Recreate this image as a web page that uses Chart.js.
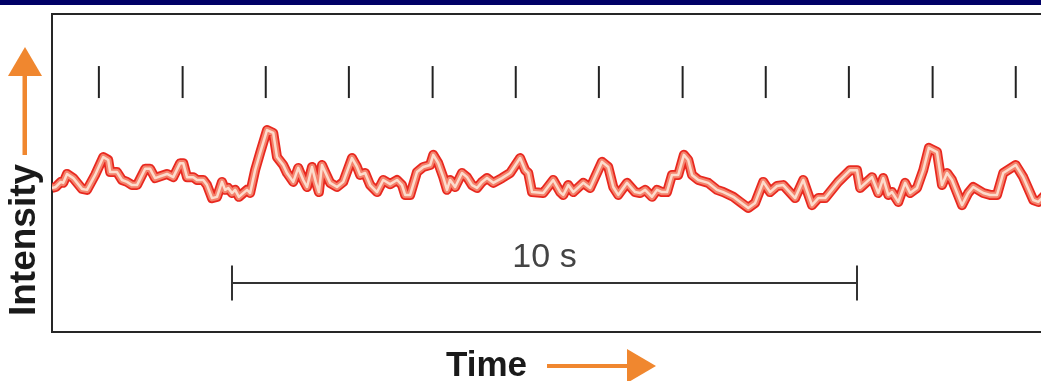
<!DOCTYPE html>
<html>
<head>
<meta charset="utf-8">
<script src="https://cdn.jsdelivr.net/npm/chart.js@4.4.1/dist/chart.umd.min.js"></script>
<style>
  html, body { margin: 0; padding: 0; background: #fff; overflow: hidden; }
  #band { position: absolute; left: 0; top: 0; width: 1041px; height: 5px; background: #000066; z-index: 2; }
  #wrap { position: absolute; left: 0; top: 0; width: 1070px; height: 381px; }
</style>
</head>
<body>
<div id="band"></div>
<div id="wrap"><canvas id="trace" width="1070" height="381"></canvas></div>
<script>
/* ============================
   DATA
   ============================ */

// time (s) of each sample in the fluorescence trace
const timeSec = [
  0.00, 0.06, 0.14, 0.18, 0.24, 0.34, 0.48, 0.56, 0.69, 0.82, 0.90, 0.93, 1.04, 1.12, 1.20, 1.28,
  1.36, 1.49, 1.57, 1.65, 1.84, 1.94, 2.05, 2.10, 2.16, 2.26, 2.32, 2.42, 2.48, 2.56, 2.64, 2.72,
  2.77, 2.82, 2.88, 2.93, 2.99, 3.12, 3.17, 3.25, 3.33, 3.44, 3.54, 3.60, 3.70, 3.76, 3.86, 3.94,
  4.02, 4.08, 4.16, 4.22, 4.27, 4.32, 4.37, 4.45, 4.56, 4.66, 4.80, 4.88, 4.93, 5.01, 5.09, 5.20,
  5.30, 5.41, 5.52, 5.60, 5.65, 5.73, 5.84, 5.94, 6.05, 6.10, 6.18, 6.26, 6.32, 6.37, 6.45, 6.56,
  6.64, 6.72, 6.80, 6.88, 6.96, 7.06, 7.20, 7.33, 7.49, 7.57, 7.62, 7.68, 7.86, 8.02, 8.13, 8.18,
  8.26, 8.34, 8.50, 8.61, 8.80, 8.90, 8.98, 9.06, 9.20, 9.33, 9.41, 9.49, 9.60, 9.68, 9.76, 9.84,
  9.92, 10.02, 10.11, 10.18, 10.24, 10.34, 10.50, 10.64, 10.74, 10.90, 11.01, 11.14, 11.25, 11.38,
  11.49, 11.60, 11.70, 11.89, 12.02, 12.16, 12.26, 12.37, 12.58, 12.77, 12.88, 12.93, 13.12, 13.22,
  13.30, 13.38, 13.44, 13.54, 13.65, 13.73, 13.84, 13.94, 14.03, 14.16, 14.24, 14.32, 14.40, 14.56,
  14.66, 14.74, 14.90, 15.01, 15.12, 15.22, 15.42, 15.54, 15.70, 15.78, 15.89
];

// intensity (a.u.) at each sample
const intensity = [
  45.3, 45.6, 47.2, 46.9, 49.7, 48.4, 45.0, 44.7, 49.4, 55.0, 54.1, 50.3, 50.3, 47.8, 47.2, 46.2,
  46.2, 51.3, 51.3, 48.4, 49.7, 48.7, 53.1, 53.1, 48.7, 48.7, 47.8, 47.8, 46.2, 42.1, 42.5, 47.2,
  44.7, 45.3, 43.7, 44.7, 42.5, 44.7, 43.7, 50.9, 56.3, 63.5, 62.6, 55.0, 52.5, 50.0, 47.2, 51.6,
  47.8, 45.6, 51.9, 47.2, 44.0, 52.5, 50.3, 46.9, 45.6, 47.2, 54.7, 51.9, 49.4, 50.0, 46.2, 44.0,
  47.8, 46.5, 47.8, 46.2, 43.1, 43.1, 50.3, 51.9, 52.5, 55.7, 53.1, 48.7, 44.7, 47.8, 45.6, 50.0,
  48.7, 46.2, 45.3, 47.2, 48.4, 46.9, 48.4, 50.0, 54.7, 50.9, 50.0, 44.0, 43.7, 47.8, 44.0, 43.1,
  46.2, 44.0, 46.9, 45.3, 53.5, 51.9, 45.6, 43.1, 46.9, 44.0, 43.7, 44.7, 42.5, 44.7, 44.0, 44.0,
  49.4, 49.4, 55.7, 54.1, 49.4, 47.8, 46.9, 44.7, 44.0, 42.5, 40.9, 39.0, 40.6, 47.2,
  44.0, 45.9, 46.2, 42.1, 47.8, 39.9, 42.1, 42.1, 47.2, 50.9, 50.9, 45.3, 48.7, 43.7,
  48.4, 43.1, 44.0, 40.9, 46.9, 43.7, 45.3, 50.9, 57.9, 56.6, 46.2, 50.0, 47.8, 39.9,
  43.7, 45.6, 43.7, 43.1, 43.1, 50.0, 52.5, 48.7, 41.5, 40.9, 43.1
];

// stimulus times (s), shown as tick marks above the trace
const stimulusSec = [0.75, 2.09, 3.42, 4.75, 6.09, 7.42, 8.75, 10.09, 11.42, 12.75, 14.09, 15.42];

// scale bar: start and end (s)
const scaleBarSec = [2.88, 12.88];
const scaleBarLabel = '10 s';

/* ============================
   STYLE
   ============================ */
const STIM_LEVEL = 78.6;
const BAR_LEVEL = 15.4;
const ORANGE = '#f0872f';
const FONT = '"Liberation Sans", Arial, Helvetica, sans-serif';

const tracePoints = timeSec.map((t, i) => ({ x: t, y: intensity[i] }));
const stimPoints = stimulusSec.map(t => ({ x: t, y: STIM_LEVEL }));
const barPoints = scaleBarSec.map(t => ({ x: t, y: BAR_LEVEL }));

// three stacked strokes give the red-edged, pale-cored trace
const traceLayer = (color, width, order) => ({
  type: 'line', data: tracePoints, borderColor: color, borderWidth: width, order,
  pointRadius: 0, tension: 0, fill: false, borderJoinStyle: 'round'
});

// frame, arrows and labels
const decorations = {
  id: 'decorations',
  beforeDatasetsDraw(chart) {
    const { ctx, chartArea: a } = chart;
    ctx.save();
    ctx.strokeStyle = '#262626';
    ctx.lineWidth = 2;
    ctx.strokeRect(a.left, a.top, a.right - a.left, a.bottom - a.top);
    ctx.restore();
  },
  afterDraw(chart) {
    const { ctx, scales } = chart;
    ctx.save();
    ctx.fillStyle = ORANGE;
    // up arrow
    ctx.fillRect(22.5, 74, 4.5, 81);
    ctx.beginPath();
    ctx.moveTo(25, 47); ctx.lineTo(8, 76); ctx.lineTo(42, 76); ctx.closePath(); ctx.fill();
    // right arrow
    ctx.fillRect(547, 364, 82, 4);
    ctx.beginPath();
    ctx.moveTo(656, 366); ctx.lineTo(627, 349); ctx.lineTo(627, 383); ctx.closePath(); ctx.fill();

    ctx.fillStyle = '#1a1a1a';
    ctx.font = 'bold 35px ' + FONT;
    ctx.textAlign = 'left';
    ctx.textBaseline = 'alphabetic';
    ctx.fillText('Time', 446, 376);

    ctx.save();
    ctx.translate(35, 240);
    ctx.rotate(-Math.PI / 2);
    ctx.textAlign = 'center';
    ctx.font = 'bold 37px ' + FONT;
    ctx.fillText('Intensity', 0, 0);
    ctx.restore();

    const mid = scales.x.getPixelForValue((scaleBarSec[0] + scaleBarSec[1]) / 2);
    const barY = scales.y.getPixelForValue(BAR_LEVEL);
    ctx.fillStyle = '#444';
    ctx.font = '34px ' + FONT;
    ctx.textAlign = 'center';
    ctx.fillText(scaleBarLabel, mid, barY - 16);
    ctx.restore();
  }
};

new Chart(document.getElementById('trace'), {
  data: {
    datasets: [
      traceLayer('#e8281f', 10, 3),
      traceLayer('#f4826c', 6.5, 2),
      traceLayer('#fcdccc', 2.5, 1),
      {
        type: 'scatter', data: stimPoints, showLine: false, order: 0,
        pointStyle: 'line', pointRotation: 90, pointRadius: 16,
        pointBorderColor: '#222', pointBorderWidth: 2
      },
      {
        type: 'line', data: barPoints, borderColor: '#333', borderWidth: 2, order: 0,
        pointStyle: 'line', pointRotation: 90, pointRadius: 17.5,
        pointBorderColor: '#333', pointBorderWidth: 2
      }
    ]
  },
  options: {
    responsive: false,
    animation: false,
    events: [],
    devicePixelRatio: 1,
    layout: { autoPadding: false, padding: { left: 52, right: 18, top: 14, bottom: 49 } },
    plugins: { legend: { display: false }, tooltip: { enabled: false } },
    scales: {
      x: { type: 'linear', min: 0, max: 16, display: false },
      y: { type: 'linear', min: 0, max: 100, display: false }
    }
  },
  plugins: [decorations]
});
</script>
</body>
</html>
